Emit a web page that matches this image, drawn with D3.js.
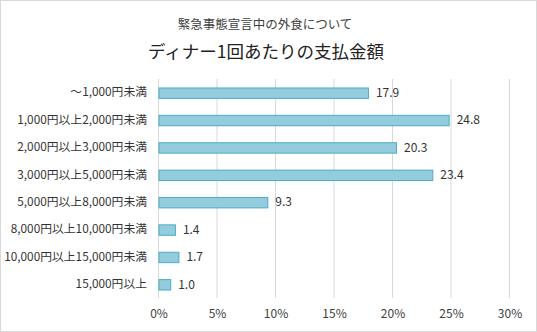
<!DOCTYPE html>
<html><head><meta charset="utf-8">
<script src="https://cdn.jsdelivr.net/npm/d3@7"></script>
<style>
html,body{margin:0;padding:0;background:#fff;}
svg{display:block;font-family:"Noto Sans CJK JP","Noto Sans",sans-serif;}
</style></head>
<body>
<svg id="chart" width="537" height="332"></svg>
<script>
const titleLine1 = "緊急事態宣言中の外食について";
const titleLine2 = "ディナー1回あたりの支払金額";
const categories = ["～1,000円未満","1,000円以上2,000円未満","2,000円以上3,000円未満","3,000円以上5,000円未満","5,000円以上8,000円未満","8,000円以上10,000円未満","10,000円以上15,000円未満","15,000円以上"];
const values = [17.9, 24.8, 20.3, 23.4, 9.3, 1.4, 1.7, 1.0];
const xTicks = [0, 5, 10, 15, 20, 25, 30];

const svg = d3.select("#chart");
svg.append("rect").attr("x",0.5).attr("y",0.5).attr("width",536).attr("height",331)
  .attr("fill","#fff").attr("stroke","#d9d9d9").attr("stroke-width",1);

svg.append("text").attr("x",265).attr("y",29).attr("text-anchor","middle")
  .attr("font-size",12.5).attr("fill","#404040").text(titleLine1);
svg.append("text").attr("x",266).attr("y",58).attr("text-anchor","middle")
  .attr("font-size",17.5).attr("fill","#222").text(titleLine2);

const x = d3.scaleLinear().domain([0,30]).range([158.5,509.5]);
const y = d3.scaleBand().domain(categories).range([79,298]).paddingInner(0.62).paddingOuter(0.31);

const g = svg.append("g");
g.selectAll("line.grid").data(xTicks).join("line").attr("class","grid")
  .attr("x1",d=>x(d)).attr("x2",d=>x(d)).attr("y1",79).attr("y2",298)
  .attr("stroke","#d9d9d9").attr("stroke-width",1);

const xAxis = d3.axisBottom(x).tickValues(xTicks).tickFormat(d=>d+"%").tickSize(0).tickPadding(0);
const ax = svg.append("g").attr("transform","translate(0,309)").call(xAxis);
ax.select(".domain").remove();
ax.selectAll("text").attr("font-size",12).attr("fill","#404040")
  .attr("font-family","'Noto Sans CJK JP','Noto Sans',sans-serif");

const yAxis = d3.axisLeft(y).tickSize(0).tickPadding(0);
const ay = svg.append("g").attr("transform","translate(147,0)").call(yAxis);
ay.select(".domain").remove();
ay.selectAll("text").attr("font-size",11.8).attr("fill","#333")
  .attr("font-family","'Noto Sans CJK JP','Noto Sans',sans-serif");

g.selectAll("rect.bar").data(values).join("rect").attr("class","bar")
  .attr("x",x(0)+0.5).attr("y",(d,i)=>y(categories[i])+0.5)
  .attr("width",d=>x(d)-x(0)).attr("height",y.bandwidth())
  .attr("fill","#93cddd").attr("stroke","#4bacc6").attr("stroke-width",1);

g.selectAll("text.val").data(values).join("text").attr("class","val")
  .attr("x",d=>x(d)+8).attr("y",(d,i)=>y(categories[i])+y.bandwidth()/2)
  .attr("dy","0.35em").attr("font-size",12).attr("fill","#333")
  .text(d=>d.toFixed(1));
</script>
</body></html>
